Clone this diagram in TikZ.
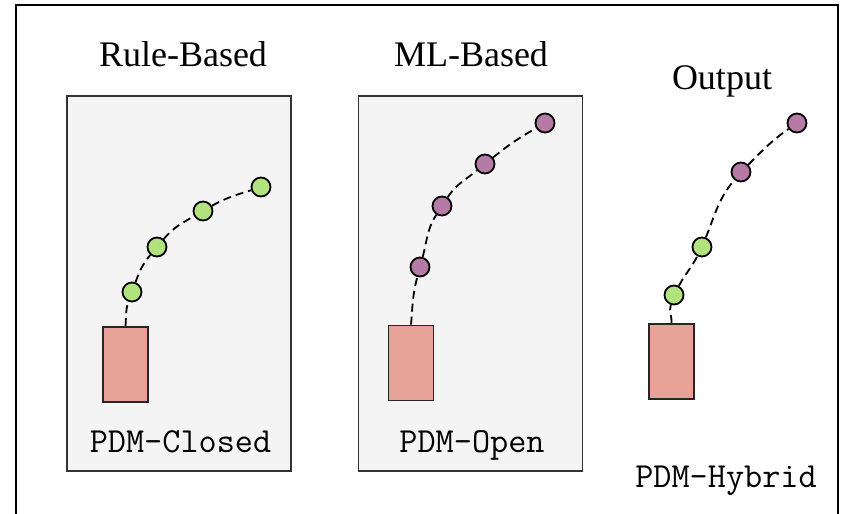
\documentclass[tikz,border=0pt]{standalone}
\usepackage{fontspec}
\setmainfont{Liberation Serif}
\usetikzlibrary{positioning}
\definecolor{panelgray}{HTML}{F4F4F4}
\definecolor{framegray}{HTML}{333333}
\definecolor{basered}{HTML}{E8A398}
\definecolor{rulegreen}{HTML}{B2E27E}
\definecolor{mlpurple}{HTML}{B57AA5}

\begin{document}
\begin{tikzpicture}[x=0.5pt, y=0.5pt,
  panel/.style={draw=framegray, fill=panelgray, line width=0.75pt, inner sep=0, minimum width=112pt, minimum height=187.5pt},
  base/.style={draw=black!85, fill=basered, line width=0.85pt, inner sep=0, minimum width=22.5pt, minimum height=37.5pt},
  point/.style={circle, draw=black, fill=#1, line width=0.9pt, inner sep=0, minimum size=9.5pt},
  link/.style={dash pattern=on 4pt off 2.5pt, line width=0.9pt},
  title/.style={anchor=base, inner sep=0, font=\fontsize{18}{20}\selectfont},
  tag/.style={anchor=base, inner sep=0, font=\ttfamily\fontsize{17.6}{20}\selectfont}]
  \useasboundingbox (0,0) rectangle (842,514);
  \draw[line width=1.1pt] (16,0) -- (16,509) -- (838,509) -- (838,0);
  % panels and titles
  \node[panel] (closed) at (179,230.5) {};
  \node[panel] (open) at (470.5,230.5) {};
  \node[title] (tclosed) at (183,447) {Rule-Based};
  \node[title] (topen) at (471,447) {ML-Based};
  \node[title] (thybrid) at (722,424) {Output};
  \node[tag] (lclosed) at (180.5,61) {PDM-Closed};
  \node[tag] (lopen) at (472,61) {PDM-Open};
  \node[tag] (lhybrid) at (726,26) {PDM-Hybrid};
  % bases
  \node[base] (rbase) at (125.5,149.5) {};
  \node[base] (mbase) at (411,151) {};
  \node[base] (hbase) at (671.5,152.5) {};
  % rule-based points
  \node[point=rulegreen] (cl1) at (132,222) {};
  \node[point=rulegreen] (cl2) at (157,267) {};
  \node[point=rulegreen] (cl3) at (203,303) {};
  \node[point=rulegreen] (cl4) at (261,327) {};
  % ml-based points
  \node[point=mlpurple] (op1) at (420,247) {};
  \node[point=mlpurple] (op2) at (442,308) {};
  \node[point=mlpurple] (op3) at (485,350) {};
  \node[point=mlpurple] (op4) at (545,391) {};
  % hybrid points
  \node[point=rulegreen] (hy1) at (674,219) {};
  \node[point=rulegreen] (hy2) at (702,267) {};
  \node[point=mlpurple] (hy3) at (741,342) {};
  \node[point=mlpurple] (hy4) at (797,391) {};
  % trajectories
  \draw[link] (rbase.north) to[out=85,in=250] (cl1) to[out=70,in=230] (cl2)
    to[out=50,in=210] (cl3) to[out=30,in=198] (cl4);
  \draw[link] (mbase.north) to[out=85,in=255] (op1) to[out=75,in=237] (op2)
    to[out=57,in=219] (op3) to[out=39,in=210] (op4);
  \draw[link] (hbase.north) to[out=85,in=252] (hy1) to[out=62,in=243] (hy2)
    to[out=68,in=230] (hy3) to[out=45,in=215] (hy4);
\end{tikzpicture}
\end{document}
